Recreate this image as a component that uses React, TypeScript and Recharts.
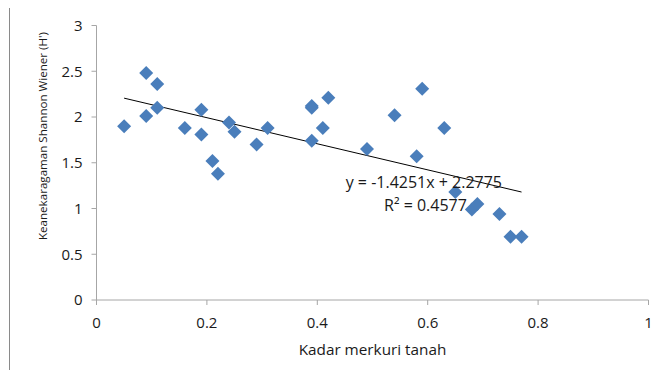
import React from 'react';
import { ScatterChart, Scatter, XAxis, YAxis, ReferenceLine, ReferenceDot } from 'recharts';

const mercury = [0.05, 0.09, 0.09, 0.11, 0.11, 0.16, 0.19, 0.19, 0.21, 0.22, 0.24, 0.25, 0.29, 0.31, 0.39, 0.39, 0.39, 0.41, 0.42, 0.49, 0.54, 0.58, 0.59, 0.63, 0.65, 0.68, 0.69, 0.73, 0.75, 0.77];
const diversity = [1.90, 2.48, 2.01, 2.36, 2.10, 1.88, 2.08, 1.81, 1.52, 1.38, 1.94, 1.84, 1.70, 1.88, 2.10, 2.12, 1.74, 1.88, 2.21, 1.65, 2.02, 1.57, 2.31, 1.88, 1.18, 0.99, 1.05, 0.94, 0.69, 0.69];
const xTicks = [0, 0.2, 0.4, 0.6, 0.8, 1];
const yTicks = [0, 0.5, 1, 1.5, 2, 2.5, 3];
const trendX = [0.05, 0.77];
const trendY = [2.206, 1.180];
const equationText = 'y = -1.4251x + 2.2775';
const r2Text = 'R² = 0.4577';
const xTitle = 'Kadar merkuri tanah';
const yTitle = "Keanekaragaman Shannon Wiener (H')";

const points = mercury.map((x, i) => ({ x, y: diversity[i] }));

const FONT = '"Open Sans", "Liberation Sans", sans-serif';
const TXT = '#1a1a1a';

const Diamond = (props: any) => {
  const { cx, cy } = props;
  if (cx == null || cy == null) return null;
  const r = 7;
  return (
    <polygon
      points={`${cx},${cy - r} ${cx + r},${cy} ${cx},${cy + r} ${cx - r},${cy}`}
      fill="#4a7ebb"
    />
  );
};

export default function App() {
  return (
    <div style={{ position: 'relative', margin: -8, width: 664, height: 378, overflow: 'hidden', background: '#fff' }}>
      <div
        style={{
          position: 'absolute',
          left: 9,
          top: 6,
          width: 700,
          height: 420,
          borderLeft: '1.5px solid #8a8a8a',
          borderTop: '1.5px solid #8a8a8a',
        }}
      />
      <div style={{ position: 'absolute', left: 0, top: 0 }}>
        <ScatterChart width={664} height={378} margin={{ top: 25.5, right: 15.5, bottom: 0, left: 0 }}>
          <XAxis
            type="number"
            dataKey="x"
            domain={[0, 1]}
            ticks={xTicks}
            height={78}
            stroke="#a6a6a6"
            tickSize={5}
            tickMargin={12}
            tick={{ fill: TXT, fontSize: 15, fontFamily: FONT }}
            tickFormatter={(v: number) => String(v)}
            label={{
              content: (p: any) => {
                const vb = p.viewBox || {};
                return (
                  <text x={vb.x + vb.width / 2} y={355} textAnchor="middle" fill={TXT} fontSize={15.3} fontFamily={FONT}>
                    {xTitle}
                  </text>
                );
              },
            }}
          />
          <YAxis
            type="number"
            dataKey="y"
            domain={[0, 3]}
            ticks={yTicks}
            width={96.5}
            stroke="#a6a6a6"
            tickSize={5}
            tickMargin={9}
            tick={{ fill: TXT, fontSize: 15, fontFamily: FONT }}
            tickFormatter={(v: number) => String(v)}
            label={{
              content: () => (
                <text x={47} y={136} transform="rotate(-90, 47, 136)" textAnchor="middle" fill={TXT} fontSize={11.6} fontFamily={FONT}>
                  {yTitle}
                </text>
              ),
            }}
          />
          <Scatter data={points} shape={<Diamond />} isAnimationActive={false} />
          <ReferenceLine
            segment={[
              { x: trendX[0], y: trendY[0] },
              { x: trendX[1], y: trendY[1] },
            ]}
            stroke="#000"
            strokeWidth={1}
            ifOverflow="visible"
          />
          <ReferenceDot
            x={0.593}
            y={1.29}
            r={0}
            fill="none"
            stroke="none"
            label={{ value: equationText, position: 'center', fill: TXT, fontSize: 16, fontFamily: FONT }}
          />
          <ReferenceDot
            x={0.596}
            y={1.04}
            r={0}
            fill="none"
            stroke="none"
            label={{ value: r2Text, position: 'center', fill: TXT, fontSize: 16, fontFamily: FONT }}
          />
        </ScatterChart>
      </div>
    </div>
  );
}
